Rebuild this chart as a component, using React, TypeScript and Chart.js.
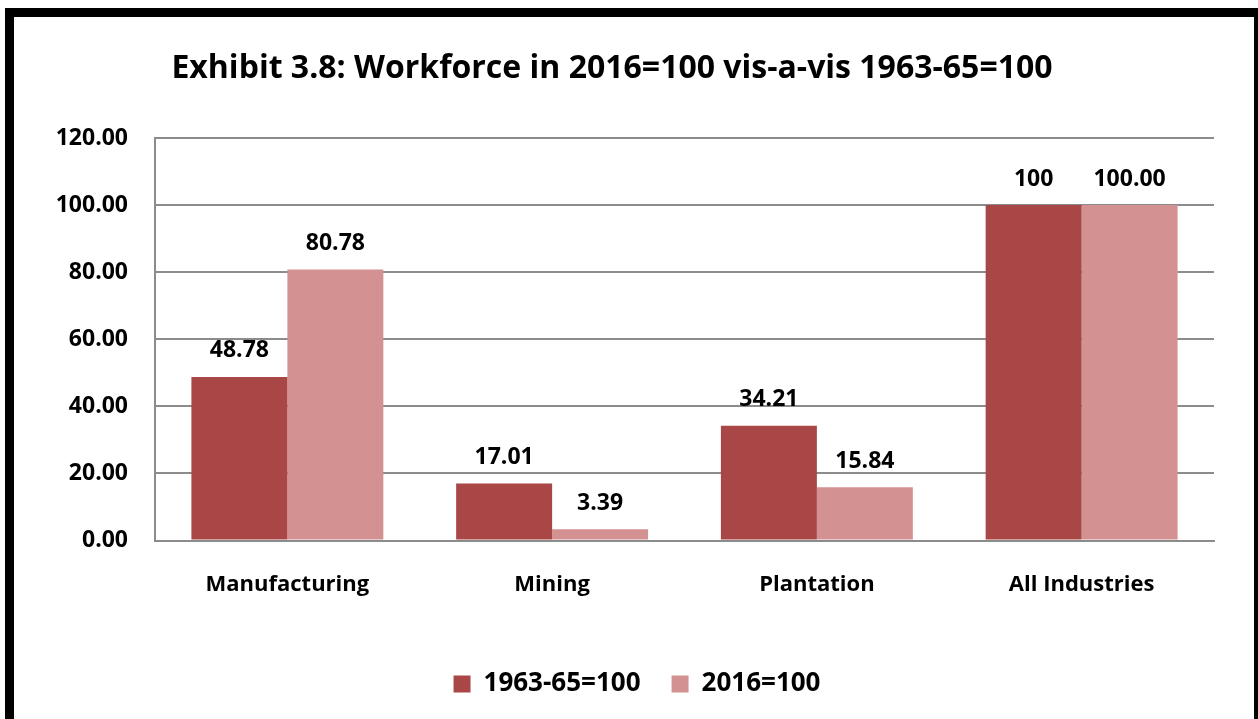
import React, { useEffect, useRef } from "react";
import { Chart, registerables } from "chart.js";

Chart.register(...registerables);

const categories = ["Manufacturing", "Mining", "Plantation", "All Industries"];
const series1Name = "1963-65=100";
const series2Name = "2016=100";
const series1Values = [48.78, 17.01, 34.21, 100];
const series2Values = [80.78, 3.39, 15.84, 100.0];
const series1Labels = ["48.78", "17.01", "34.21", "100"];
const series2Labels = ["80.78", "3.39", "15.84", "100.00"];
const yTicks = [0, 20, 40, 60, 80, 100, 120];
const titleText = "Exhibit 3.8: Workforce in 2016=100 vis-a-vis 1963-65=100";

const FONT = "'Open Sans', Lato, sans-serif";

const dataLabelPlugin = {
  id: "dataLabels",
  afterDatasetsDraw(chart: any) {
    const ctx = chart.ctx;
    const labelSets = [series1Labels, series2Labels];
    ctx.save();
    ctx.font = `bold 23px ${FONT}`;
    ctx.fillStyle = "#000";
    ctx.textAlign = "center";
    ctx.textBaseline = "middle";
    chart.data.datasets.forEach((ds: any, di: number) => {
      const meta = chart.getDatasetMeta(di);
      meta.data.forEach((bar: any, i: number) => {
        ctx.fillText(labelSets[di][i], bar.x, bar.y - 26);
      });
    });
    ctx.restore();
  },
};

const legendShiftPlugin = {
  id: "legendShift",
  afterLayout(chart: any) {
    const l = chart.legend;
    if (l) {
      l.left += 25;
      l.right += 25;
    }
  },
};

export default function App() {
  const ref = useRef<HTMLCanvasElement>(null);
  useEffect(() => {
    document.body.style.margin = "0";
    const chart = new Chart(ref.current!, {
      type: "bar",
      data: {
        labels: categories,
        datasets: [
          {
            label: series1Name,
            data: series1Values,
            backgroundColor: "#A84745",
            categoryPercentage: 0.725,
            barPercentage: 1,
          },
          {
            label: series2Name,
            data: series2Values,
            backgroundColor: "#D39191",
            categoryPercentage: 0.725,
            barPercentage: 1,
          },
        ],
      },
      options: {
        animation: false,
        responsive: false,
        layout: { padding: { left: 10, right: 44, top: 0, bottom: 12 } },
        plugins: {
          title: {
            display: true,
            text: titleText,
            color: "#000",
            font: { family: FONT, size: 32, weight: "bold" },
            padding: { top: 50, bottom: 49.6 },
          },
          legend: {
            position: "bottom",
            labels: {
              color: "#000",
              font: { family: FONT, size: 26, weight: "bold" },
              boxWidth: 17,
              boxHeight: 17,
              padding: 31,
            },
          },
          tooltip: { enabled: false },
        },
        scales: {
          x: {
            grid: { display: false, drawTicks: false },
            border: { display: true, color: "#8C8C8C", width: 2 },
            ticks: {
              color: "#000",
              font: { family: FONT, size: 22, weight: "bold" },
              padding: 31,
              maxRotation: 0,
            },
            afterFit: (s: any) => {
              s.height = 99.5;
            },
          },
          y: {
            min: 0,
            max: 120,
            afterBuildTicks: (s: any) => {
              s.ticks = yTicks.map((v) => ({ value: v }));
            },
            grid: { color: "#8C8C8C", lineWidth: 2, drawTicks: false },
            border: { display: true, color: "#8C8C8C", width: 2 },
            ticks: {
              color: "#000",
              font: { family: FONT, size: 23, weight: "bold" },
              padding: 27,
              callback: (v: any) => Number(v).toFixed(2),
            },
            afterFit: (s: any) => {
              s.width = 145;
            },
          },
        },
      },
      plugins: [dataLabelPlugin, legendShiftPlugin],
    });
    return () => chart.destroy();
  }, []);

  return (
    <div style={{ position: "relative", width: 1258, height: 719, overflow: "hidden", background: "#fff" }}>
      <canvas ref={ref} width={1258} height={719} style={{ position: "absolute", left: 0, top: 0 }} />
      <div
        style={{
          position: "absolute",
          left: 5,
          top: 8,
          width: 1258,
          height: 760,
          borderLeft: "9px solid #000",
          borderTop: "9px solid #000",
          borderRight: "9px solid #000",
          boxSizing: "border-box",
        }}
      />
    </div>
  );
}
